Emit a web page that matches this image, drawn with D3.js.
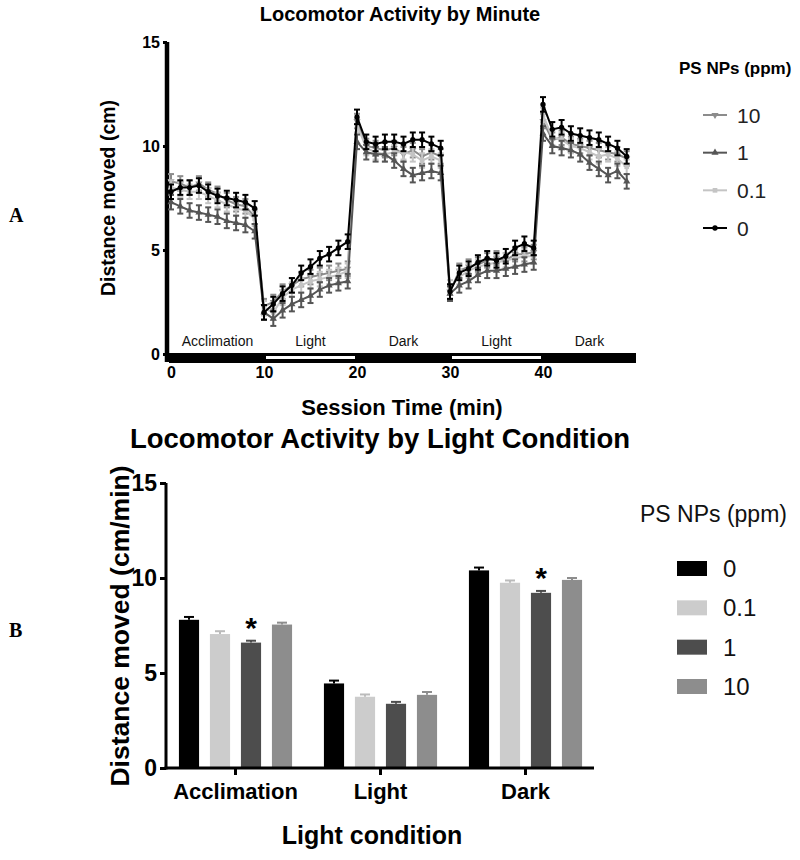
<!DOCTYPE html>
<html><head><meta charset="utf-8">
<script src="https://cdn.jsdelivr.net/npm/d3@7"></script>
<style>body{margin:0;background:#fff;} svg{display:block;font-family:"Liberation Sans",Arial,sans-serif;}</style>
</head><body>
<svg id="c" width="800" height="860"></svg>
<script>
// ---------- Data: panel A (per minute) ----------
const minutes = d3.range(0, 50);
const groupsA = ["10", "1", "0.1", "0"];
const s10  = [8.3,8.2,8.0,8.2,7.9,7.7,7.4,7.2,7.1,6.6, 2.3,2.5,3.0,3.3,3.6,3.7,3.8,3.9,4.0,4.1, 11.2,10.0,9.9,9.8,9.9,9.6,9.8,9.5,9.7,9.5, 3.0,4.0,4.2,4.3,4.5,4.6,4.5,4.8,4.8,4.9, 11.2,10.3,10.4,10.1,10.0,9.9,9.8,9.7,9.6,9.4];
const s1   = [7.3,7.1,6.9,6.8,6.7,6.6,6.4,6.3,6.2,5.9, 2.0,1.7,2.1,2.4,2.6,2.8,3.1,3.3,3.4,3.5, 10.2,9.7,9.6,9.6,9.3,8.9,8.6,8.7,8.8,8.7, 2.9,3.3,3.5,3.8,4.0,4.0,4.1,4.2,4.3,4.4, 10.6,10.0,9.9,9.8,9.6,9.2,8.9,8.6,8.8,8.3];
const s01  = [8.0,7.9,7.8,7.8,7.6,7.4,7.2,7.0,6.9,6.5, 2.2,2.0,2.7,3.1,3.3,3.5,3.6,3.7,3.8,4.0, 11.0,9.9,9.7,9.6,9.7,9.7,9.6,9.3,9.5,9.3, 3.2,3.7,4.0,4.2,4.3,4.4,4.5,4.6,4.7,4.7, 11.5,10.4,10.3,10.0,9.9,9.7,9.5,9.6,9.4,9.0];
const s0   = [7.8,8.0,8.0,8.1,7.8,7.6,7.5,7.4,7.3,7.0, 2.0,2.4,2.9,3.3,3.9,4.2,4.6,4.8,5.1,5.4, 11.4,10.2,10.1,10.2,10.2,10.1,10.3,10.3,10.1,9.9, 3.0,3.9,4.1,4.4,4.6,4.5,4.7,5.1,5.3,5.1, 12.0,10.8,10.9,10.6,10.5,10.4,10.3,10.1,9.9,9.5];
const errA = 0.35;
const phaseLabels = ["Acclimation","Light","Dark","Light","Dark"];
const phaseStarts = [0,10,20,30,40];
const yTicksA = [0,5,10,15];
const xTicksA = [0,10,20,30,40];

// ---------- Data: panel B (per light condition) ----------
const conditions = ["Acclimation","Light","Dark"];
const groupsB = ["0","0.1","1","10"];
const b0   = [7.8, 4.45, 10.4];
const b01  = [7.05, 3.75, 9.75];
const b1   = [6.6, 3.38, 9.22];
const b10  = [7.55, 3.85, 9.9];
const e0   = [0.15, 0.15, 0.15];
const e01  = [0.15, 0.12, 0.12];
const e1   = [0.1, 0.1, 0.1];
const e10  = [0.1, 0.15, 0.1];
const signif = [{cond:"Acclimation", group:"1"}, {cond:"Dark", group:"1"}];
const yTicksB = [0,5,10,15];

const colorA = {"10":"#8c8c8c","1":"#555555","0.1":"#c4c4c4","0":"#000000"};
const colorB = {"0":"#000000","0.1":"#cccccc","1":"#4d4d4d","10":"#8d8d8d"};
const symA = {"10":d3.symbolTriangle,"1":d3.symbolTriangle,"0.1":d3.symbolSquare,"0":d3.symbolCircle};
const rotA = {"10":180,"1":0,"0.1":0,"0":0};

const svg = d3.select("#c");
const FONT = "'Liberation Sans',Arial,sans-serif";

// ================= Panel A =================
const xA = d3.scaleLinear().domain([0,50]).range([171,636]);
const yA = d3.scaleLinear().domain([0,15]).range([354,42]);
const seriesA = {"10":s10,"1":s1,"0.1":s01,"0":s0};

svg.append("text").attr("x",400).attr("y",21).attr("text-anchor","middle")
  .attr("font-weight","bold").attr("font-size",20).text("Locomotor Activity by Minute");

svg.append("text").attr("transform","translate(115,198) rotate(-90)").attr("text-anchor","middle")
  .attr("font-weight","bold").attr("font-size",19.5).text("Distance moved (cm)");

svg.append("text").attr("x",402).attr("y",415).attr("text-anchor","middle")
  .attr("font-weight","bold").attr("font-size",22).text("Session Time (min)");

svg.append("text").attr("x",9).attr("y",222).attr("font-family","'Liberation Serif',serif")
  .attr("font-weight","bold").attr("font-size",20).text("A");

// y axis A
const gyA = svg.append("g").attr("transform","translate(167,0)")
  .call(d3.axisLeft(yA).tickValues(yTicksA).tickSize(4).tickPadding(3));
gyA.select(".domain").attr("stroke-width",4.5).attr("d","M0,42V362");
gyA.selectAll(".tick line").attr("stroke-width",3);
gyA.selectAll(".tick text").attr("font-size",16).attr("font-weight","bold").attr("fill","#000")
  .attr("font-family",FONT);

// light/dark bar as x axis
svg.append("rect").attr("x",xA(0)-2).attr("y",353).attr("width",xA(50)-xA(0)+2).attr("height",10).attr("fill","#000");
[10,30].forEach(s=>{
  svg.append("rect").attr("x",xA(s)+2).attr("y",356).attr("width",xA(s+10)-xA(s)-4).attr("height",3).attr("fill","#fff");
});
const gxA = svg.append("g").attr("transform","translate(0,363)")
  .call(d3.axisBottom(xA).tickValues(xTicksA).tickSize(0).tickPadding(4));
gxA.select(".domain").remove();
gxA.selectAll(".tick text").attr("font-size",16).attr("font-weight","bold").attr("fill","#000")
  .attr("font-family",FONT);

// phase labels
phaseLabels.forEach((p,i)=>{
  svg.append("text").attr("x",xA(phaseStarts[i]+5)).attr("y",346).attr("text-anchor","middle")
    .attr("font-size",14).attr("fill","#111").text(p);
});

// series
const drawOrder = ["10","0.1","1","0"];
const lineA = d3.line().x((d,i)=>xA(minutes[i])).y(d=>yA(d));
drawOrder.forEach(g=>{
  const vals = seriesA[g];
  const col = colorA[g];
  const grp = svg.append("g");
  vals.forEach((v,i)=>{
    const x = xA(minutes[i]);
    grp.append("line").attr("x1",x).attr("x2",x).attr("y1",yA(v-errA)).attr("y2",yA(v+errA)).attr("stroke",col).attr("stroke-width",2);
    grp.append("line").attr("x1",x-3).attr("x2",x+3).attr("y1",yA(v+errA)).attr("y2",yA(v+errA)).attr("stroke",col).attr("stroke-width",2);
    grp.append("line").attr("x1",x-3).attr("x2",x+3).attr("y1",yA(v-errA)).attr("y2",yA(v-errA)).attr("stroke",col).attr("stroke-width",2);
  });
  grp.append("path").datum(vals).attr("d",lineA).attr("fill","none").attr("stroke",col).attr("stroke-width",2);
  vals.forEach((v,i)=>{
    grp.append("path").attr("d",d3.symbol().type(symA[g]).size(22)())
      .attr("transform",`translate(${xA(minutes[i])},${yA(v)}) rotate(${rotA[g]})`).attr("fill",col);
  });
});

// legend A
svg.append("text").attr("x",679).attr("y",74).attr("font-weight","bold").attr("font-size",17).text("PS NPs (ppm)");
const legAy = d3.scalePoint().domain(groupsA).range([115,228]);
groupsA.forEach(g=>{
  const y = legAy(g), col = colorA[g];
  svg.append("line").attr("x1",703).attr("x2",727).attr("y1",y).attr("y2",y).attr("stroke",col).attr("stroke-width",2);
  svg.append("path").attr("d",d3.symbol().type(symA[g]).size(22)())
    .attr("transform",`translate(715,${y}) rotate(${rotA[g]})`).attr("fill",col);
  svg.append("text").attr("x",737).attr("y",y+7.5).attr("font-size",21).attr("fill","#222").text(g);
});

// ================= Panel B =================
const xB = d3.scaleBand().domain(conditions).range([163,598]);
const xInner = d3.scaleBand().domain(groupsB).range([-62,62]).paddingInner(0.35).paddingOuter(0.175);
const yB = d3.scaleLinear().domain([0,15]).range([768,483]);
const valsB = {"0":b0,"0.1":b01,"1":b1,"10":b10};
const errsB = {"0":e0,"0.1":e01,"1":e1,"10":e10};

svg.append("text").attr("x",380).attr("y",448).attr("text-anchor","middle")
  .attr("font-weight","bold").attr("font-size",27.5).text("Locomotor Activity by Light Condition");

svg.append("text").attr("transform","translate(129,626) rotate(-90)").attr("text-anchor","middle")
  .attr("font-weight","bold").attr("font-size",26.5).text("Distance moved (cm/min)");

svg.append("text").attr("x",372).attr("y",844).attr("text-anchor","middle")
  .attr("font-weight","bold").attr("font-size",25).text("Light condition");

svg.append("text").attr("x",9).attr("y",637).attr("font-family","'Liberation Serif',serif")
  .attr("font-weight","bold").attr("font-size",20).text("B");

// bars
conditions.forEach((c,ci)=>{
  groupsB.forEach(g=>{
    const v = valsB[g][ci], e = errsB[g][ci];
    const x0 = xB(c)+xB.bandwidth()/2+xInner(g);
    const w = xInner.bandwidth();
    svg.append("rect").attr("x",x0).attr("y",yB(v)).attr("width",w).attr("height",yB(0)-yB(v)).attr("fill",colorB[g]);
    const cx = x0+w/2, col = g==="0"?"#000":(g==="0.1"?"#bbbbbb":colorB[g]);
    svg.append("line").attr("x1",cx).attr("x2",cx).attr("y1",yB(v)).attr("y2",yB(v+e)).attr("stroke",col).attr("stroke-width",2);
    svg.append("line").attr("x1",cx-5).attr("x2",cx+5).attr("y1",yB(v+e)).attr("y2",yB(v+e)).attr("stroke",col).attr("stroke-width",2);
  });
});
signif.forEach(s=>{
  const ci = conditions.indexOf(s.cond);
  const x = xB(s.cond)+xB.bandwidth()/2+xInner(s.group)+xInner.bandwidth()/2;
  svg.append("text").attr("x",x).attr("y",yB(valsB[s.group][ci]+errsB[s.group][ci])-3).attr("text-anchor","middle")
    .attr("font-weight","bold").attr("font-size",30).text("*");
});

const gyB = svg.append("g").attr("transform","translate(166,0)")
  .call(d3.axisLeft(yB).tickValues(yTicksB).tickSize(6).tickPadding(3));
gyB.select(".domain").attr("stroke-width",3).attr("d","M0,483V769.5");
gyB.selectAll(".tick line").attr("stroke-width",3);
gyB.selectAll(".tick text").attr("font-size",23).attr("font-weight","bold").attr("fill","#000")
  .attr("font-family",FONT);

const gxB = svg.append("g").attr("transform","translate(0,768)")
  .call(d3.axisBottom(xB).tickSize(7).tickPadding(8));
gxB.select(".domain").attr("stroke-width",3).attr("d","M164.5,0H594");
gxB.selectAll(".tick line").attr("stroke-width",3);
gxB.selectAll(".tick text").attr("font-size",22).attr("font-weight","bold").attr("fill","#000")
  .attr("font-family",FONT);

// legend B
svg.append("text").attr("x",640).attr("y",522).attr("font-size",23).attr("fill","#111").text("PS NPs (ppm)");
const legBy = d3.scalePoint().domain(groupsB).range([568,686]);
groupsB.forEach(g=>{
  const y = legBy(g);
  svg.append("rect").attr("x",677).attr("y",y-7).attr("width",30).attr("height",15).attr("fill",colorB[g]);
  svg.append("text").attr("x",723).attr("y",y+9).attr("font-size",24).attr("fill","#111").text(g);
});
</script>
</body></html>
